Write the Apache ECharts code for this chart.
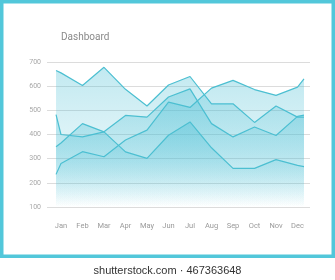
<!DOCTYPE html>
<html>
<head>
<meta charset="utf-8">
<script src="https://cdn.jsdelivr.net/npm/echarts@6/dist/echarts.min.js"></script>
<style>
  html, body { margin: 0; padding: 0; background: #fff; }
  #chart { width: 335px; height: 280px; }
</style>
</head>
<body>
<div id="chart"></div>
<script>
// ---- data ----
var months = ['Jan', 'Feb', 'Mar', 'Apr', 'May', 'Jun', 'Jul', 'Aug', 'Sep', 'Oct', 'Nov', 'Dec'];
var yTicks = [100, 200, 300, 400, 500, 600, 700];
var seriesA = [655, 603, 678, 587, 518, 605, 640, 527, 527, 450, 518, 472];
var seriesB = [400, 390, 411, 479, 472, 555, 589, 445, 390, 431, 396, 475];
var seriesC = [280, 329, 308, 377, 418, 534, 512, 592, 624, 586, 562, 596];
var seriesD = [365, 445, 411, 328, 301, 397, 452, 345, 260, 260, 296, 272];
// values where each area meets the left and right edges of the plot
var edgeStart = [665, 482, 235, 349];
var edgeEnd = [472, 480, 630, 267];

var title = 'Dashboard';
var watermark = 'shutterstock.com \u00b7 467363648';

// ---- chart ----
var LEFT_EDGE = -0.23, RIGHT_EDGE = 11.3;
var all = [seriesA, seriesB, seriesC, seriesD];

function build(values, k) {
  var d = [[LEFT_EDGE, edgeStart[k]]];
  values.forEach(function (v, i) { d.push([i, v]); });
  d.push([RIGHT_EDGE, edgeEnd[k]]);
  return d;
}

var series = all.map(function (vals, k) {
  return {
    type: 'line',
    data: build(vals, k),
    symbol: 'none',
    smooth: false,
    lineStyle: { color: '#4cbfd1', width: 1.2 },
    areaStyle: {
      origin: 'start',
      color: {
        type: 'linear', x: 0, y: 0, x2: 0, y2: 1,
        colorStops: [
          { offset: 0, color: 'rgba(72,190,212,0.48)' },
          { offset: 0.6, color: 'rgba(72,190,212,0.22)' },
          { offset: 1, color: 'rgba(72,190,212,0.0)' }
        ]
      }
    },
    z: 2 + k
  };
});

var chart = echarts.init(document.getElementById('chart'), null, { renderer: 'canvas' });
chart.setOption({
  animation: false,
  backgroundColor: '#ffffff',
  title: {
    text: title,
    left: 56, top: 27,
    textStyle: { fontFamily: 'Roboto', fontSize: 10, fontWeight: 'normal', color: '#8a8a8a' }
  },
  grid: { left: 47, right: 25, top: 62, bottom: 73, containLabel: false },
  xAxis: {
    type: 'value',
    min: -0.65, max: 11.58,
    axisLine: { show: false },
    axisTick: { show: false },
    splitLine: { show: false },
    axisLabel: {
      customValues: months.map(function (m, i) { return i; }),
      formatter: function (v) { return months[Math.round(v)] || ''; },
      margin: 15,
      fontFamily: 'Roboto', fontSize: 7.5, color: '#9a9a9a'
    }
  },
  yAxis: {
    type: 'value',
    min: yTicks[0], max: yTicks[yTicks.length - 1], interval: 100,
    axisLine: { show: false },
    axisTick: { show: false },
    axisLabel: { margin: 6, fontFamily: 'Roboto', fontSize: 7, color: '#a8a8a8' },
    splitLine: { lineStyle: { color: '#dcdcdc', width: 1 } }
  },
  series: series,
  graphic: [
    {
      type: 'rect', silent: true, z: 100,
      shape: { x: 1.75, y: 1.75, width: 331.5, height: 254.5 },
      style: { fill: 'none', stroke: '#52c7da', lineWidth: 3.5 }
    },
    {
      type: 'text', silent: true, z: 100,
      left: 'center', top: 265,
      style: { text: watermark, fontFamily: 'Liberation Sans', fontSize: 11, fill: '#333333' }
    }
  ]
});
</script>
</body>
</html>
